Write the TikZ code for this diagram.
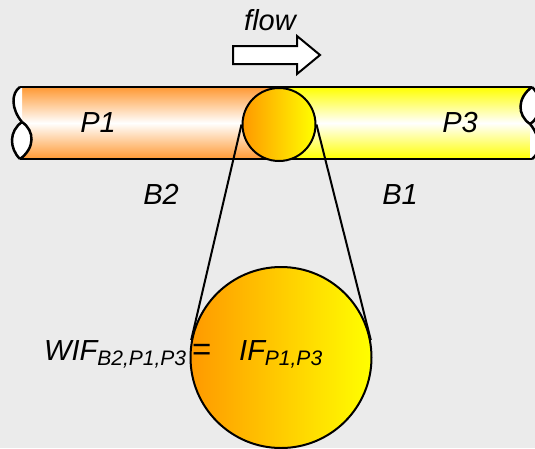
\documentclass[tikz,border=0pt]{standalone}
\usepackage{fontspec}
\setmainfont{Liberation Sans}
\usetikzlibrary{positioning}
\definecolor{bggray}{RGB}{235,235,235}
\definecolor{pipeorange}{RGB}{255,153,51}
\definecolor{pipeyellow}{RGB}{255,255,0}
\definecolor{jointorange}{RGB}{255,153,0}
\newcommand{\lowsub}[1]{\raisebox{-5pt}{\fontsize{21}{21}\selectfont #1}}

\begin{document}
\begin{tikzpicture}[x=1pt,y=-1pt,
  lbl/.style={inner sep=0pt,anchor=base,font=\fontsize{29}{29}\selectfont\itshape},
  joint/.style={circle,draw,line width=2pt,inner sep=0pt,left color=jointorange,right color=pipeyellow},
  pipeline/.style={line width=2.5pt}]
\fill[bggray] (0,0) rectangle (535,448);
\useasboundingbox (0,0) rectangle (535,448);

% the two pipe halves
\shade[top color=pipeorange,bottom color=pipeorange,middle color=white] (22,87) rectangle (279,159);
\shade[top color=pipeyellow,bottom color=pipeyellow,middle color=white] (279,87) rectangle (530,159);

% broken ends
\foreach \bx/\rot in {21/0,531/180}{
\begin{scope}[shift={(\bx,123)},rotate=\rot]
\fill[white] (-1,-36) .. controls (-10,-30) and (-10,-14) .. (1,-1) -- (1,-36) -- cycle;
\fill[white] (1,-1) .. controls (-12,8) and (-12,25) .. (-1,36) .. controls (14,25) and (14,8) .. (1,-1) -- cycle;
\draw[pipeline] (-1,-36) .. controls (-10,-30) and (-10,-14) .. (1,-1);
\draw[pipeline] (1,-1) .. controls (-12,8) and (-12,25) .. (-1,36);
\draw[pipeline] (1,-1) .. controls (14,8) and (14,25) .. (-1,36);
\end{scope}
}
\draw[pipeline] (20,87) -- (532,87);
\draw[pipeline] (20,159) -- (532,159);

\node[joint,minimum size=73pt] (joint) at (279,124.5) {};
\node[joint,minimum size=181pt] (detail) at (281,357.5) {};
\draw[line width=2pt] (joint.west) -- (detail.169);
\draw[line width=2pt] (joint.east) -- (detail.11);

% flow direction
\node[lbl] (flowlbl) at (270,30) {flow};
\draw[line width=2pt,fill=white] (233,46) -- (297,46) -- (297,36) -- (320,55) -- (297,74) -- (297,64) -- (233,64) -- cycle;

\node[lbl] (p1) at (98,132) {P1};
\node[lbl] (p3) at (460,132) {P3};
\node[lbl] (b2) at (161,204) {B2};
\node[lbl] (b1) at (400,204) {B1};

\node[lbl,anchor=base west] (wif) at (44,360) {WIF\lowsub{B2,P1,P3}};
\node[lbl,anchor=base west,font=\fontsize{33}{33}\selectfont] (eq) at (192,360) {=};
\node[lbl,anchor=base west] (ifp) at (239,360) {IF\lowsub{P1,P3}};
\end{tikzpicture}
\end{document}
